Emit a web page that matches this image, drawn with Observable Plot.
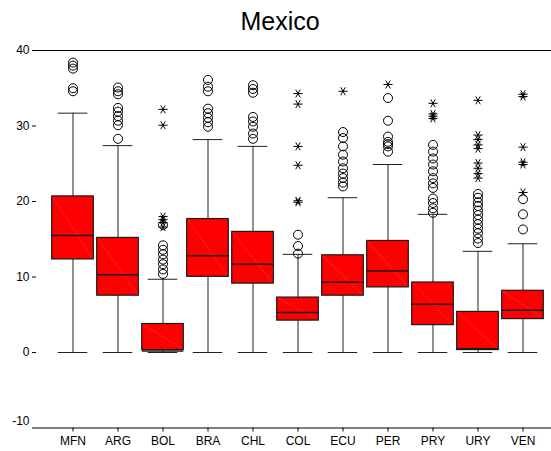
<!DOCTYPE html>
<html><head><meta charset="utf-8">
<script src="https://cdn.jsdelivr.net/npm/d3@7"></script>
<script src="https://cdn.jsdelivr.net/npm/@observablehq/plot@0.6"></script>
<style>
body{margin:0;background:#fff;font-family:"Liberation Sans",Arial,sans-serif;}
#title{height:38px;width:551px;text-align:center;font-size:25px;line-height:normal;padding-top:7px;box-sizing:border-box;padding-left:9px;color:#000;}
</style></head><body>
<div id="title">Mexico</div>
<div id="chart"></div>
<script>
const categories = ["MFN","ARG","BOL","BRA","CHL","COL","ECU","PER","PRY","URY","VEN"];
const whiskerLow = [0,0,0,0,0,0,0,0,0,0,0];
const q1 =        [12.1, 7.3, 0.1, 9.8, 8.9, 4.0, 7.3, 8.4, 3.4, 0.1, 4.2];
const median =    [15.5, 10.3, 0.2, 12.8, 11.7, 5.3, 9.3, 10.8, 6.4, 0.5, 5.6];
const q3 =        [20.9, 15.4, 4.0, 17.9, 16.2, 7.5, 13.1, 15.0, 9.5, 5.6, 8.4];
const whiskerHigh = [31.7, 27.4, 9.7, 28.2, 27.3, 13.0, 20.5, 24.9, 18.3, 13.4, 14.4];
const circleOutliers = [
  [38.4, 38.0, 37.6, 35.0, 34.6],
  [35.1, 34.6, 34.2, 32.4, 31.9, 31.3, 30.7, 30.1, 28.3],
  [16.9, 14.2, 13.6, 13.0, 12.3, 11.7, 11.0, 10.4],
  [36.1, 35.2, 34.6, 32.3, 31.7, 31.1, 30.5, 29.9],
  [35.4, 34.9, 34.4, 31.2, 30.6, 29.9, 29.0, 28.3],
  [15.6, 14.1, 13.1],
  [29.2, 28.4, 27.3, 26.2, 25.3, 24.4, 23.7, 23.1, 22.5, 22.0],
  [33.7, 30.7, 28.6, 27.9, 27.6, 27.3, 26.6],
  [27.5, 26.6, 25.7, 24.9, 24.0, 23.1, 22.4, 21.8, 20.4, 19.8, 19.1, 18.5],
  [21.0, 20.5, 19.9, 19.4, 18.8, 18.2, 17.6, 17.0, 16.4, 15.8, 15.1, 14.5],
  [20.3, 18.3, 16.3]
];
const starOutliers = [
  [],
  [],
  [32.2, 30.1, 18.0, 17.6, 17.2, 16.6],
  [],
  [],
  [34.3, 32.9, 27.3, 24.8, 20.1, 19.9],
  [34.6],
  [35.5],
  [33.0, 31.6, 31.3, 31.0],
  [33.4, 28.8, 28.2, 27.5, 27.0, 25.1, 24.4, 23.7, 23.1],
  [34.2, 33.9, 27.2, 25.2, 24.9, 21.2]
];
const yTicks = [-10, 0, 10, 20, 30, 40];

const rows = categories.map((c, i) => ({cat: c, lo: whiskerLow[i], q1: q1[i], med: median[i], q3: q3[i], hi: whiskerHigh[i]}));
const circleRows = categories.flatMap((c, i) => circleOutliers[i].map(v => ({cat: c, v})));
const starRows = categories.flatMap((c, i) => starOutliers[i].map(v => ({cat: c, v})));

const plot = Plot.plot({
  width: 551, height: 413,
  marginTop: 12, marginBottom: 23.5, marginLeft: 36, marginRight: 0,
  style: {fontFamily: "'Liberation Sans', Arial, sans-serif", fontSize: "12px", color: "#000", background: "#fff", overflow: "visible"},
  x: {domain: categories, range: [47.3, 546.7], padding: 0, label: null},
  y: {domain: [-10, 40], label: null},
  marks: [
    Plot.ruleY([40], {stroke: "#000", strokeWidth: 1}),
    Plot.ruleY([-10], {stroke: "#000", strokeWidth: 1}),
    Plot.axisY({ticks: yTicks, tickSize: 4, tickPadding: 3, line: true, label: null, tickFormat: d => d === -10 ? "" : String(d), fill: "#000", stroke: "#000"}),
    Plot.text([-10], {y: d => d, text: d => String(d), frameAnchor: "left", dx: -7, dy: -7, textAnchor: "end", fill: "#000"}),
    Plot.axisX({tickSize: 4, tickPadding: 4, label: null, fill: "#000", stroke: "#000"}),
    Plot.ruleX(rows, {x: "cat", y1: "lo", y2: "hi", stroke: "#222", strokeWidth: 1}),
    Plot.tickY(rows, {x: "cat", y: "hi", inset: 7.7, stroke: "#222", strokeWidth: 1}),
    Plot.tickY(rows, {x: "cat", y: "lo", inset: 7.7, stroke: "#222", strokeWidth: 1}),
    Plot.barY(rows, {x: "cat", y1: "q1", y2: "q3", fill: "#ff0000", stroke: "#1a1a1a", strokeWidth: 1.2, inset: 1.7}),
    Plot.tickY(rows, {x: "cat", y: "med", inset: 1.7, stroke: "#1a1a1a", strokeWidth: 1.5}),
    Plot.dot(circleRows, {x: "cat", y: "v", r: 4.5, stroke: "#000", fill: "none", strokeWidth: 1}),
    Plot.dot(starRows, {x: "cat", y: "v", symbol: "asterisk", r: 4.3, stroke: "#000", strokeWidth: 1, rotate: 90})
  ]
});

// faint diagonal shading seam inside each box
d3.select(plot).selectAll('g[aria-label="bar"] rect').each(function() {
  const r = d3.select(this);
  const x = +r.attr("x"), y = +r.attr("y"), w = +r.attr("width"), h = +r.attr("height");
  d3.select(this.parentNode).append("line")
    .attr("x1", x + 1).attr("y1", y + 1).attr("x2", x + w - 1).attr("y2", y + h - 1)
    .attr("stroke", "#ff4a4a").attr("stroke-width", 0.4).attr("fill", "none");
});

document.getElementById("chart").appendChild(plot);
</script>
</body></html>
